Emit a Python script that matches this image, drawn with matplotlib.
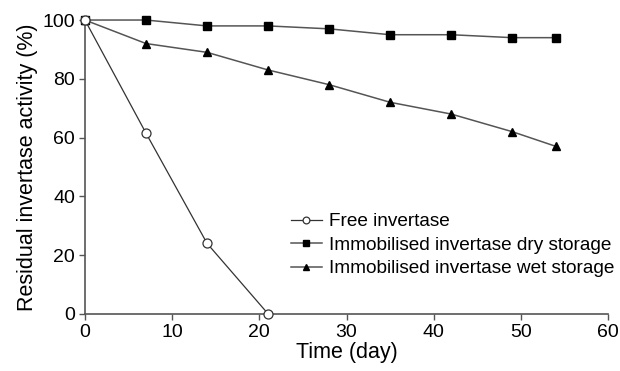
import matplotlib.pyplot as plt

plt.rcParams['font.family'] = ['Liberation Sans', 'DejaVu Sans']

# Data
days_free = [0, 7, 14, 21]
free = [100, 61.5, 24, 0]
days_imm = [0, 7, 14, 21, 28, 35, 42, 49, 54]
dry = [100, 100, 98, 98, 97, 95, 95, 94, 94]
wet = [100, 92, 89, 83, 78, 72, 68, 62, 57]

fig = plt.figure(figsize=(6.2, 3.71), dpi=100)
ax = fig.add_axes([0.137, 0.154, 0.844, 0.792])

line_col = '#555555'
ax.plot(days_free, free, color='#333333', lw=0.9, marker='o', ms=6.5,
        mfc='white', mec='#333333', mew=0.9, label='Free invertase', clip_on=False, zorder=3)
ax.plot(days_imm, dry, color=line_col, lw=1.1, marker='s', ms=5.3,
        mfc='black', mec='black', label='Immobilised invertase dry storage', clip_on=False)
ax.plot(days_imm, wet, color=line_col, lw=1.1, marker='^', ms=6,
        mfc='black', mec='black', label='Immobilised invertase wet storage', clip_on=False)

ax.set_xlim(0, 60)
ax.set_ylim(0, 100)
ax.set_xticks(range(0, 61, 10))
ax.set_yticks(range(0, 101, 20))
ax.set_xlabel('Time (day)', fontsize=15.5, labelpad=1)
ax.set_ylabel('Residual invertase activity (%)', fontsize=15.5, labelpad=3)

for s in ['top', 'right']:
    ax.spines[s].set_visible(False)
for s in ['left', 'bottom']:
    ax.spines[s].set_color('#555555')
    ax.spines[s].set_linewidth(1.2)
ax.tick_params(direction='out', length=4, width=1, color='#555555',
               labelsize=14, pad=3)

ax.legend(loc='center left', bbox_to_anchor=(0.394, 0.234), frameon=False,
          fontsize=13.7, handlelength=1.6, handletextpad=0.4, labelspacing=0.33,
          borderaxespad=0, borderpad=0, markerscale=0.75)

fig.savefig('out.png', dpi=100)
